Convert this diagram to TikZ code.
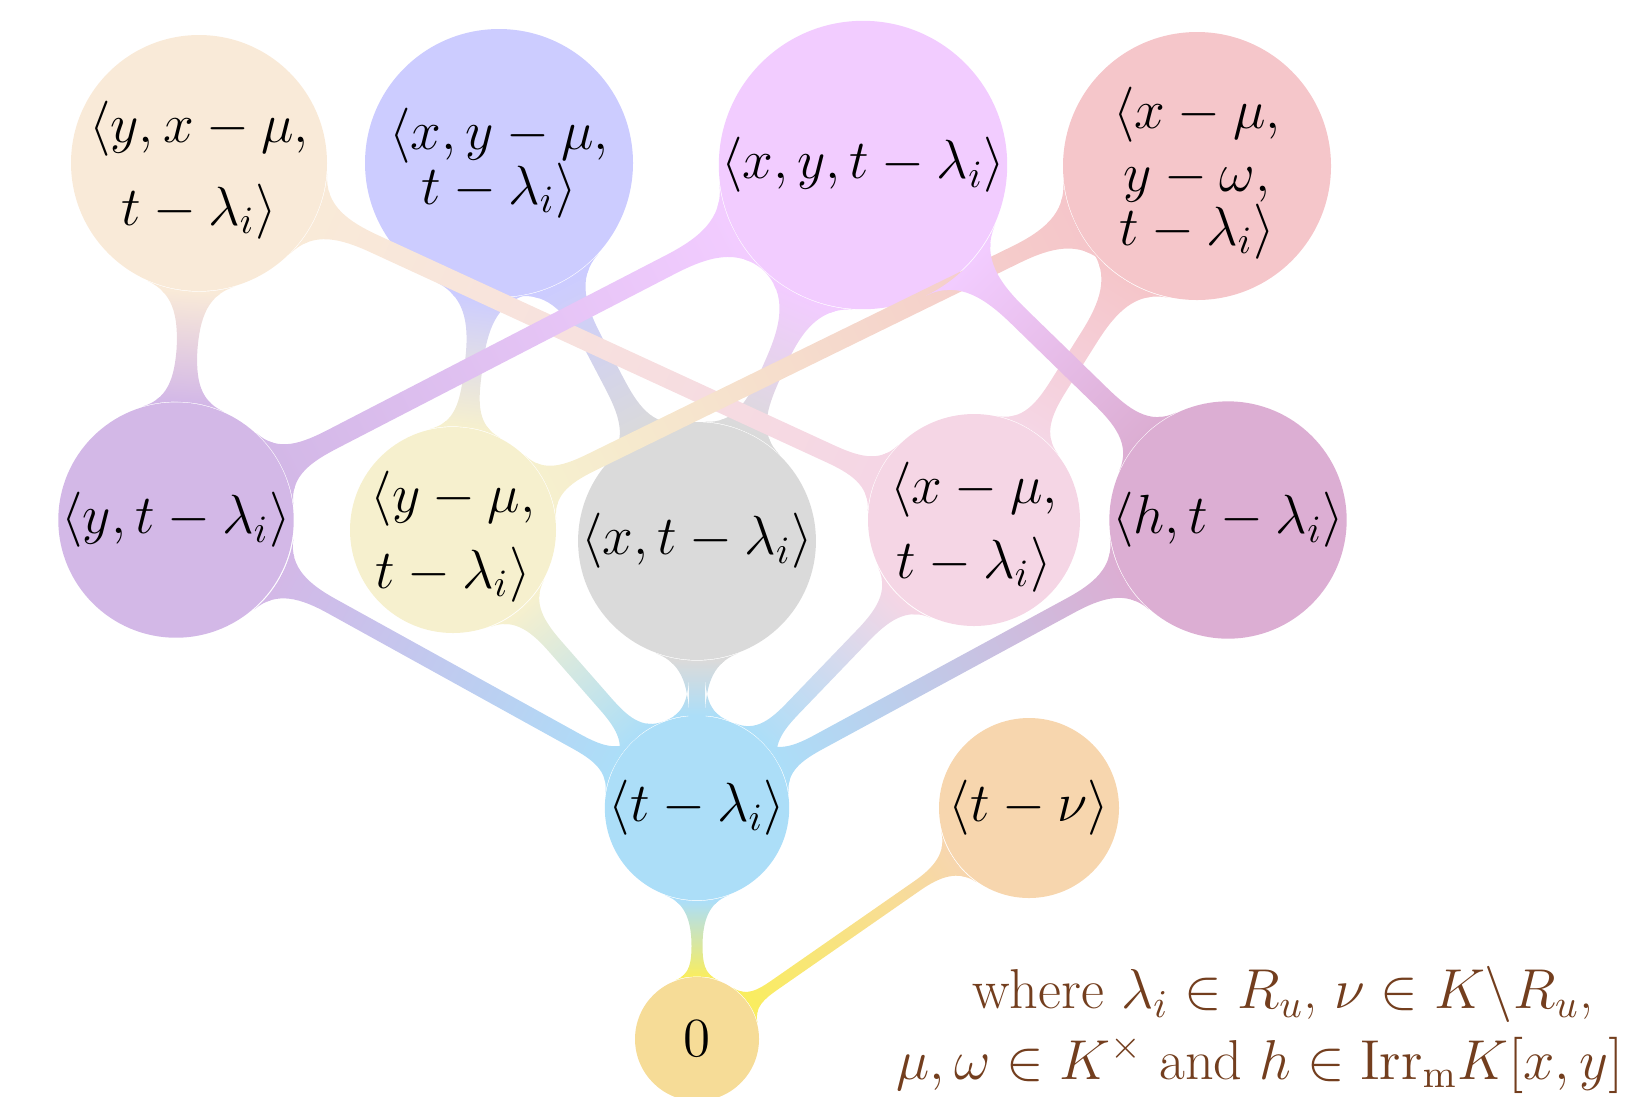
\documentclass[tikz,border=0pt]{standalone}
\usepackage{fix-cm}
\usetikzlibrary{mindmap}
\definecolor{zerocol}{RGB}{246,220,151}
\definecolor{zerobar}{RGB}{249,237,95}
\definecolor{tlcol}{RGB}{172,222,248}
\definecolor{tncol}{RGB}{247,214,174}
\definecolor{ytcol}{RGB}{211,184,231}
\definecolor{ymtcol}{RGB}{246,240,206}
\definecolor{xtcol}{RGB}{218,218,218}
\definecolor{xmtcol}{RGB}{245,214,229}
\definecolor{htcol}{RGB}{220,174,211}
\definecolor{yxmtcol}{RGB}{249,234,216}
\definecolor{xymtcol}{RGB}{204,204,255}
\definecolor{xytcol}{RGB}{242,204,255}
\definecolor{xmywtcol}{RGB}{245,198,202}
\definecolor{wherecol}{RGB}{115,62,30}
\begin{document}
\begin{tikzpicture}[x=1cm,y=1cm,
   ideal/.style={circle,fill=#1,inner sep=0pt,align=center,
      font=\fontsize{15.7}{18}\selectfont},
   barw/.style={line width=5pt}]
   \useasboundingbox (0,0) rectangle (16.46,-10.96);
   %ideals
   \node[ideal=zerocol,minimum size=1.24cm] (zero) at (6.97,-10.39) {$0$};
   \node[ideal=tlcol,minimum size=1.80cm] (tl) at (6.97,-8.08) {$\langle t-\lambda_i\rangle$};
   \node[ideal=tncol,minimum size=1.80cm] (tn) at (10.29,-8.08) {$\langle t-\nu\rangle$};
   \node[ideal=ytcol,minimum size=2.34cm] (yt) at (1.76,-5.20) {$\langle y,t-\lambda_i\rangle$};
   \node[ideal=ymtcol,minimum size=2.06cm,text depth=0pt] (ymt) at (4.53,-5.30) {$\langle y-\mu,$\\[3.6pt]$t-\lambda_i\rangle$};
   \node[ideal=xtcol,minimum size=2.36cm] (xt) at (6.97,-5.41) {$\langle x,t-\lambda_i\rangle$};
   \node[ideal=xmtcol,minimum size=2.12cm,text depth=0pt] (xmt) at (9.74,-5.20) {$\langle x-\mu,$\\[3.3pt]$t-\lambda_i\rangle$};
   \node[ideal=htcol,minimum size=2.36cm] (ht) at (12.28,-5.20) {$\langle h,t-\lambda_i\rangle$};
   \node[ideal=yxmtcol,minimum size=2.56cm,text depth=-5pt] (yxmt) at (1.99,-1.63) {$\langle y,x-\mu,$\\[5.6pt]$t-\lambda_i\rangle$};
   \node[ideal=xymtcol,minimum size=2.68cm] (xymt) at (4.99,-1.63) {$\langle x,y-\mu,$\\[-2.3pt]$t-\lambda_i\rangle$};
   \node[ideal=xytcol,minimum size=2.78cm] (xyt) at (8.63,-1.65) {$\langle x,y,t-\lambda_i\rangle$};
   \node[ideal=xmywtcol,minimum size=2.68cm,text depth=-0.6pt] (xmywt) at (11.97,-1.66) {$\langle x-\mu,$\\$y-\omega,$\\[-2.8pt]$t-\lambda_i\rangle$};
   %bars
   \path[barw] (zero) to[circle connection bar switch color=from (zerobar) to (tlcol)] (tl);
   \path[barw] (zero) to[circle connection bar switch color=from (zerobar) to (tncol)] (tn);
   \path[barw] (tl) to[circle connection bar switch color=from (tlcol) to (ytcol)] (yt);
   \path[barw] (tl) to[circle connection bar switch color=from (tlcol) to (ymtcol)] (ymt);
   \path[barw] (tl) to[circle connection bar switch color=from (tlcol) to (xtcol)] (xt);
   \path[barw] (tl) to[circle connection bar switch color=from (tlcol) to (xmtcol)] (xmt);
   \path[barw] (tl) to[circle connection bar switch color=from (tlcol) to (htcol)] (ht);
   \path[barw] (yt) to[circle connection bar switch color=from (ytcol) to (yxmtcol)] (yxmt);
   \path[barw] (ymt) to[circle connection bar switch color=from (ymtcol) to (xymtcol)] (xymt);
   \path[barw] (xt) to[circle connection bar switch color=from (xtcol) to (xymtcol)] (xymt);
   \path[barw] (xt) to[circle connection bar switch color=from (xtcol) to (xytcol)] (xyt);
   \path[barw] (xmt) to[circle connection bar switch color=from (xmtcol) to (xmywtcol)] (xmywt);
   \path[barw] (xmt) to[circle connection bar switch color=from (xmtcol) to (yxmtcol)] (yxmt);
   \path[barw] (yt) to[circle connection bar switch color=from (ytcol) to (xytcol)] (xyt);
   \path[barw] (ymt) to[circle connection bar switch color=from (ymtcol) to (xmywtcol)] (xmywt);
   \path[barw] (ht) to[circle connection bar switch color=from (htcol) to (xytcol)] (xyt);
   %where
   \node[text=wherecol,align=center,font=\fontsize{16}{20}\selectfont] (where) at (12.6,-10.30)
      {\hspace*{13pt}where $\lambda_i\in R_u$, $\nu\in K\backslash R_u$,\\
       $\mu,\omega\in K^\times$ and $h\in\mathrm{Irr}_\mathrm{m}K[x,y]$};
\end{tikzpicture}
\end{document}
